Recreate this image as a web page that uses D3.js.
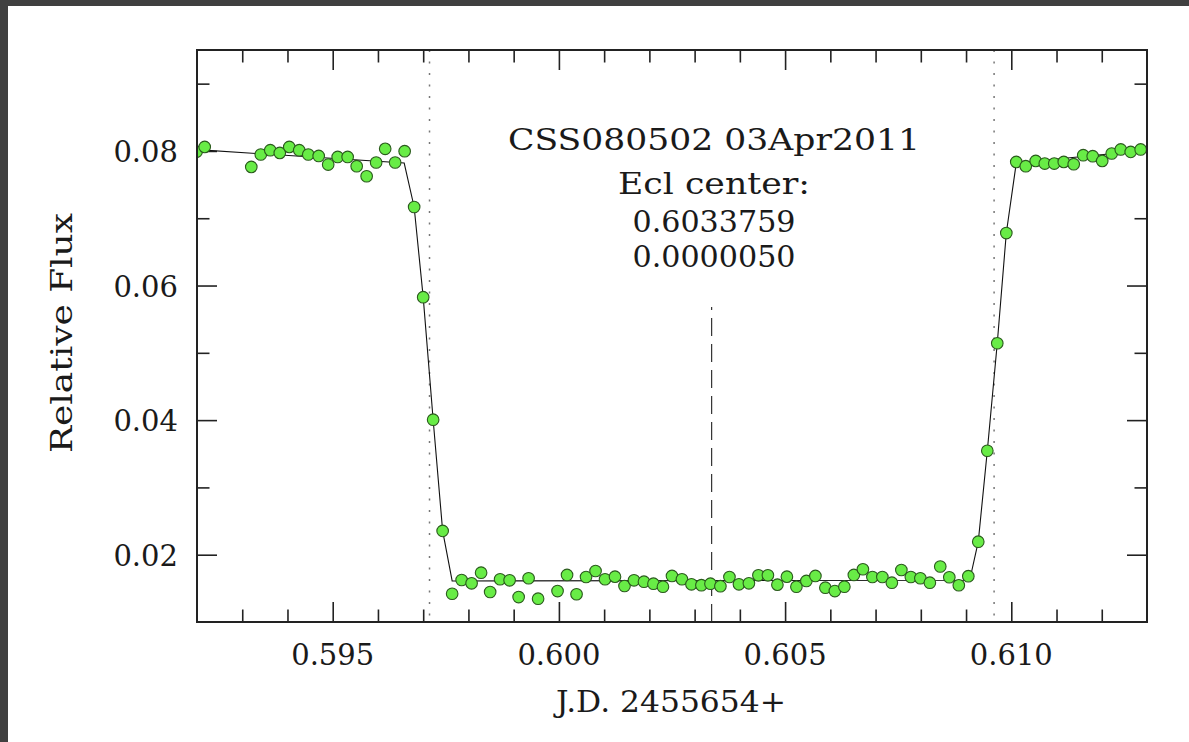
<!DOCTYPE html>
<html>
<head>
<meta charset="utf-8">
<script src="https://cdn.jsdelivr.net/npm/d3@7"></script>
<style>
  body { margin: 0; background: #fff; }
  .lbl { font-family: "DejaVu Serif", serif; fill: #1a1a1a; }
</style>
</head>
<body>
<div class="chart"></div>
<script>
var svgWidth = 1189;
var svgHeight = 742;

var margin = {top: 50, right: 42, bottom: 120, left: 197};

var width = svgWidth - margin.left - margin.right;
var height = svgHeight - margin.top - margin.bottom;

// observed points (J.D. - 2455654, relative flux)
var obsTime = [0.59199, 0.59217, 0.59320, 0.59341, 0.59362, 0.59383, 0.59404, 0.59426, 0.59446, 0.59469,
  0.59490, 0.59511, 0.59533, 0.59553, 0.59575, 0.59596, 0.59616, 0.59638, 0.59659, 0.59680,
  0.59700, 0.59722, 0.59743, 0.59764, 0.59785, 0.59807, 0.59828, 0.59848, 0.59870, 0.59891,
  0.59911, 0.59933, 0.59954, 0.59997, 0.60018, 0.60039, 0.60060, 0.60081, 0.60102, 0.60124,
  0.60145, 0.60166, 0.60188, 0.60209, 0.60230, 0.60250, 0.60272, 0.60293, 0.60315, 0.60335,
  0.60357, 0.60377, 0.60398, 0.60420, 0.60441, 0.60462, 0.60483, 0.60504, 0.60525, 0.60547,
  0.60567, 0.60589, 0.60610, 0.60631, 0.60652, 0.60672, 0.60693, 0.60715, 0.60736, 0.60757,
  0.60778, 0.60799, 0.60820, 0.60843, 0.60863, 0.60884, 0.60905, 0.60927, 0.60947, 0.60969,
  0.60989, 0.61011, 0.61032, 0.61054, 0.61074, 0.61095, 0.61116, 0.61138, 0.61159, 0.61180,
  0.61201, 0.61222, 0.61242, 0.61264, 0.61286];
var obsFlux = [0.07986, 0.0806, 0.07763, 0.07947, 0.08011, 0.07971, 0.0806, 0.08011, 0.07947, 0.07926,
  0.07798, 0.07911, 0.07911, 0.07773, 0.07624, 0.07828, 0.08031, 0.07828, 0.07996, 0.07167,
  0.05827, 0.04006, 0.02354, 0.0142, 0.01624, 0.01575, 0.01733, 0.01446, 0.01635, 0.0162,
  0.01371, 0.0165, 0.01346, 0.0146, 0.01699, 0.01412, 0.01669, 0.01758, 0.01635, 0.01674,
  0.01535, 0.0162, 0.01599, 0.01569, 0.01525, 0.01684, 0.01635, 0.0156, 0.01547, 0.01569,
  0.01532, 0.01669, 0.0156, 0.01575, 0.01694, 0.01694, 0.01555, 0.01674, 0.01525, 0.0161,
  0.01684, 0.0151, 0.0146, 0.01525, 0.01699, 0.01784, 0.01669, 0.01669, 0.01584, 0.01773,
  0.01669, 0.0165, 0.01584, 0.01825, 0.01665, 0.01546, 0.01681, 0.02193, 0.03545, 0.05142,
  0.0678, 0.07837, 0.07773, 0.07852, 0.07813, 0.07813, 0.07837, 0.07803, 0.07937, 0.07922,
  0.07852, 0.07962, 0.08022, 0.07986, 0.08022];

// model light curve
var modelTime = [0.592, 0.59658, 0.59680, 0.59700, 0.59722, 0.59743, 0.59764,
  0.60908, 0.60927, 0.60947, 0.60969, 0.60989, 0.61011, 0.613];
var modelFlux = [0.0802, 0.0782, 0.07167, 0.05827, 0.04006, 0.02354, 0.0161,
  0.0162, 0.02193, 0.03545, 0.05142, 0.0678, 0.0782, 0.0801];

// contact times and eclipse centre
var contactTimes = [0.59714, 0.60962];
var eclCenter = 0.6033759;
var eclMarkTop = 0.0568;

var xMajor = [0.595, 0.600, 0.605, 0.610];
var xMajorLabels = ['0.595', '0.600', '0.605', '0.610'];
var yMajor = [0.02, 0.04, 0.06, 0.08];
var yMajorLabels = ['0.02', '0.04', '0.06', '0.08'];

var titleLines = ['CSS080502 03Apr2011', 'Ecl center:', '0.6033759', '0.0000050'];
var xTitle = 'J.D. 2455654+';
var yTitle = 'Relative Flux';

var root = d3
  .select('.chart')
  .append('svg')
  .attr('width', svgWidth)
  .attr('height', svgHeight);

root.append('rect').attr('width', svgWidth).attr('height', svgHeight).attr('fill', '#fff');
// dark window border
root.append('rect').attr('width', svgWidth).attr('height', 6).attr('fill', '#404040');
root.append('rect').attr('width', 8).attr('height', svgHeight).attr('fill', '#404040');

var chart = root.append('g')
  .attr('transform', 'translate(' + margin.left + ',' + margin.top + ')');

var xScale = d3.scaleLinear().domain([0.592, 0.613]).range([0, width]);
var yScale = d3.scaleLinear().domain([0.010, 0.095]).range([height, 0]);

chart.append('clipPath').attr('id', 'clip')
  .append('rect').attr('width', width).attr('height', height);

// ticks drawn inward on all four sides
var xMinor = d3.range(593, 613).map(function(d) { return d / 1000; })
  .filter(function(d) { return xMajor.every(function(m) { return Math.abs(m - d) > 1e-9; }); });
var yMinor = [0.03, 0.05, 0.07, 0.09];

function addAxis(axis, transform, size) {
  var g = chart.append('g').attr('transform', transform).call(axis.tickSize(size).tickFormat(''));
  g.select('.domain').remove();
  g.selectAll('line').attr('stroke', '#222').attr('stroke-width', 1.6);
}

addAxis(d3.axisTop(xScale).tickValues(xMajor), 'translate(0,' + height + ')', 20);
addAxis(d3.axisTop(xScale).tickValues(xMinor), 'translate(0,' + height + ')', 12.5);
addAxis(d3.axisBottom(xScale).tickValues(xMajor), 'translate(0,0)', 20);
addAxis(d3.axisBottom(xScale).tickValues(xMinor), 'translate(0,0)', 12.5);
addAxis(d3.axisRight(yScale).tickValues(yMajor), 'translate(0,0)', 20);
addAxis(d3.axisRight(yScale).tickValues(yMinor), 'translate(0,0)', 12.5);
addAxis(d3.axisLeft(yScale).tickValues(yMajor), 'translate(' + width + ',0)', 20);
addAxis(d3.axisLeft(yScale).tickValues(yMinor), 'translate(' + width + ',0)', 12.5);

// tick labels
chart.selectAll('.xlab')
  .data(xMajor)
  .enter()
  .append('text')
  .attr('class', 'lbl')
  .attr('x', function(d) { return xScale(d); })
  .attr('y', height + 43)
  .attr('text-anchor', 'middle')
  .attr('font-size', 29)
  .text(function(d, i) { return xMajorLabels[i]; });

chart.selectAll('.ylab')
  .data(yMajor)
  .enter()
  .append('text')
  .attr('class', 'lbl')
  .attr('x', -19)
  .attr('y', function(d) { return yScale(d) + 11; })
  .attr('text-anchor', 'end')
  .attr('font-size', 29)
  .text(function(d, i) { return yMajorLabels[i]; });

var plot = chart.append('g').attr('clip-path', 'url(#clip)');

// contact lines (dotted)
plot.selectAll('.contact')
  .data(contactTimes)
  .enter()
  .append('line')
  .attr('x1', function(d) { return xScale(d); })
  .attr('x2', function(d) { return xScale(d); })
  .attr('y1', 0)
  .attr('y2', height)
  .attr('stroke', '#777')
  .attr('stroke-width', 1.5)
  .attr('stroke-dasharray', '2,9.5');

// eclipse centre (dashed, drawn upward from the axis)
plot.append('line')
  .attr('x1', xScale(eclCenter))
  .attr('x2', xScale(eclCenter))
  .attr('y1', height)
  .attr('y2', yScale(eclMarkTop))
  .attr('stroke', '#333')
  .attr('stroke-width', 1.2)
  .attr('stroke-dasharray', '18,8');

// model curve
var line = d3.line()
  .x(function(d) { return xScale(d[0]); })
  .y(function(d) { return yScale(d[1]); });

plot.append('path')
  .datum(modelTime.map(function(t, i) { return [t, modelFlux[i]]; }))
  .attr('d', line)
  .attr('fill', 'none')
  .attr('stroke', '#111')
  .attr('stroke-width', 1.1);

// observations
plot.selectAll('circle')
  .data(obsTime.map(function(t, i) { return [t, obsFlux[i]]; }))
  .enter()
  .append('circle')
  .attr('cx', function(d) { return xScale(d[0]); })
  .attr('cy', function(d) { return yScale(d[1]); })
  .attr('r', 5.8)
  .attr('fill', '#68ec46')
  .attr('stroke', '#2a5a1c')
  .attr('stroke-width', 1.1);

// frame
chart.append('rect')
  .attr('width', width)
  .attr('height', height)
  .attr('fill', 'none')
  .attr('stroke', '#222')
  .attr('stroke-width', 2);

// annotation block
var annY = [100, 144, 182, 216.7];
var annW = [412, 192, 163, 163];
chart.selectAll('.ann')
  .data(titleLines)
  .enter()
  .append('text')
  .attr('class', 'lbl')
  .attr('x', 517)
  .attr('y', function(d, i) { return annY[i]; })
  .attr('text-anchor', 'middle')
  .attr('font-size', 29)
  .attr('textLength', function(d, i) { return annW[i]; })
  .attr('lengthAdjust', 'spacingAndGlyphs')
  .text(function(d) { return d; });

// axis titles
chart.append('text')
  .attr('class', 'lbl')
  .attr('x', width / 2 - 1)
  .attr('y', height + 90)
  .attr('text-anchor', 'middle')
  .attr('font-size', 29)
  .attr('textLength', 230)
  .attr('lengthAdjust', 'spacingAndGlyphs')
  .text(xTitle);

chart.append('text')
  .attr('class', 'lbl')
  .attr('transform', 'rotate(-90)')
  .attr('x', -(333 - margin.top))
  .attr('y', 72 - margin.left)
  .attr('text-anchor', 'middle')
  .attr('font-size', 29)
  .attr('textLength', 240)
  .attr('lengthAdjust', 'spacingAndGlyphs')
  .text(yTitle);
</script>
</body>
</html>
